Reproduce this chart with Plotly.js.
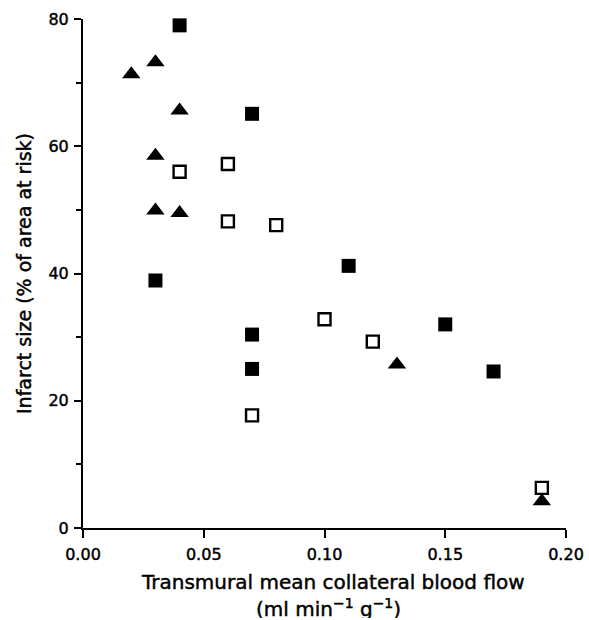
<!DOCTYPE html>
<html>
<head>
<meta charset="utf-8">
<script src="https://cdn.plot.ly/plotly-3.0.1.min.js"></script>
<style>
html,body{margin:0;padding:0;background:#fff;}
#chart{width:589px;height:620px;}
#chart svg text{stroke:#000;stroke-width:0.45px;}
</style>
</head>
<body>
<div id="chart"></div>
<script>
// Filled squares
const filledSqX = [0.04, 0.07, 0.03, 0.07, 0.07, 0.11, 0.15, 0.17];
const filledSqY = [79, 65.1, 38.9, 30.4, 25.0, 41.2, 32.0, 24.6];
// Open squares
const openSqX = [0.04, 0.06, 0.06, 0.08, 0.10, 0.12, 0.07, 0.19];
const openSqY = [56.0, 57.2, 48.2, 47.6, 32.8, 29.3, 17.7, 6.3];
// Filled triangles
const triX = [0.02, 0.03, 0.04, 0.03, 0.03, 0.04, 0.13, 0.19];
const triY = [71.3, 73.2, 65.6, 58.5, 49.9, 49.5, 25.7, 4.2];

const xTickVals = [0, 0.05, 0.10, 0.15, 0.20];
const xTickText = ['0.00', '0.05', '0.10', '0.15', '0.20'];
const yTickVals = [0, 20, 40, 60, 80];
const xTitleLine1 = 'Transmural mean collateral blood flow';
const xTitleLine2 = '(ml min<sup>−1</sup> g<sup>−1</sup>)';
const yTitle = 'Infarct size (% of area at risk)';

const fontFam = 'DejaVu Sans, Liberation Sans, Arial, sans-serif';

const traces = [
  {x: filledSqX, y: filledSqY, mode: 'markers', type: 'scatter', cliponaxis: false,
   marker: {symbol: 'square', size: 14, color: '#000', line: {width: 0}}},
  {x: openSqX, y: openSqY, mode: 'markers', type: 'scatter', cliponaxis: false,
   marker: {symbol: 'square-open', size: 12, color: '#000', line: {width: 2.4}}},
  {x: triX, y: triY, mode: 'markers', type: 'scatter', cliponaxis: false,
   marker: {symbol: 'triangle-up', size: 16, color: '#000', line: {width: 0}}}
];

const layout = {
  width: 589, height: 620,
  margin: {l: 83, r: 23, t: 19, b: 92},
  showlegend: false,
  paper_bgcolor: '#fff', plot_bgcolor: '#fff',
  font: {family: fontFam, color: '#000', size: 16},
  xaxis: {
    range: [0, 0.2], showgrid: false, zeroline: false,
    showline: true, linecolor: '#000', linewidth: 2,
    ticks: 'outside', ticklen: 8, tickwidth: 2, tickcolor: '#000',
    tickvals: xTickVals, ticktext: xTickText, ticklabelstandoff: 3,
    tickfont: {size: 16, family: fontFam}
  },
  yaxis: {
    range: [0, 80], showgrid: false, zeroline: false,
    showline: true, linecolor: '#000', linewidth: 2,
    ticks: 'outside', ticklen: 7, tickwidth: 2, tickcolor: '#000',
    tickvals: yTickVals, ticklabelstandoff: 2,
    tickfont: {size: 16, family: fontFam},
    minor: {tickvals: [10, 30, 50, 70], ticks: 'outside', ticklen: 5, tickwidth: 2, tickcolor: '#000', showgrid: false},
    title: {text: yTitle, font: {size: 19, family: fontFam}, standoff: 12}
  },
  annotations: [
    {text: xTitleLine1, xref: 'paper', yref: 'paper', x: 0.5, y: 0, xanchor: 'center', yanchor: 'middle',
     xshift: 8, yshift: -54, height: 20, showarrow: false, font: {size: 20, family: fontFam, color: '#000'}},
    {text: xTitleLine2, xref: 'paper', yref: 'paper', x: 0.5, y: 0, xanchor: 'center', yanchor: 'middle',
     xshift: 4, yshift: -80, height: 20, showarrow: false, font: {size: 20, family: fontFam, color: '#000'}}
  ]
};

Plotly.newPlot('chart', traces, layout, {displayModeBar: false, staticPlot: true});
</script>
</body>
</html>
